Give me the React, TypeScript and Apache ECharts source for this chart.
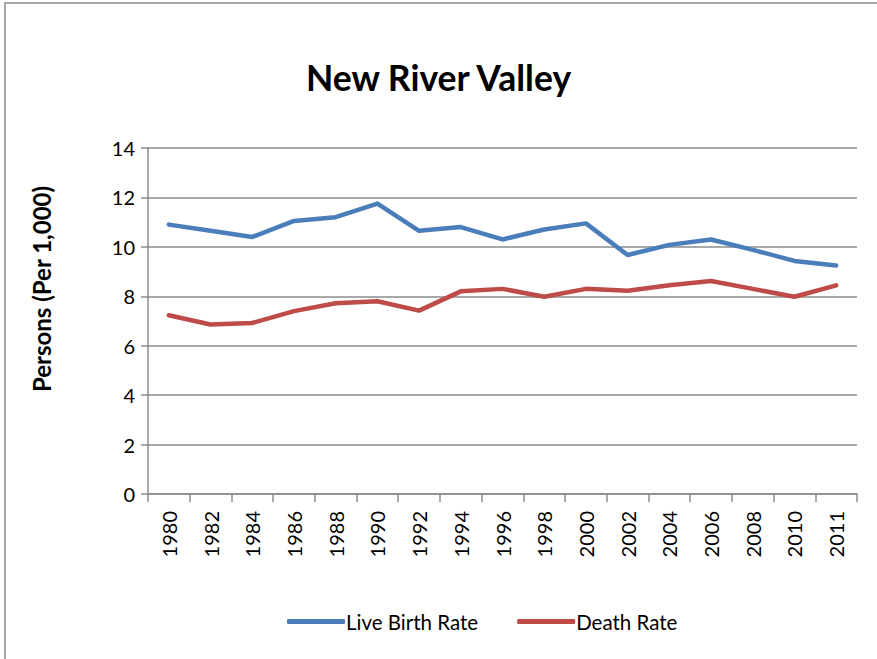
import React, { useEffect, useRef } from "react";
import * as echarts from "echarts";

const years = ["1980","1982","1984","1986","1988","1990","1992","1994","1996","1998","2000","2002","2004","2006","2008","2010","2011"];
const liveBirthRate = [10.9,10.65,10.4,11.05,11.2,11.75,10.65,10.8,10.3,10.7,10.95,9.67,10.08,10.3,9.88,9.43,9.25];
const deathRate = [7.23,6.86,6.92,7.4,7.72,7.8,7.42,8.2,8.3,7.98,8.3,8.22,8.45,8.62,8.3,7.98,8.44];
const seriesNames = ["Live Birth Rate", "Death Rate"];
const colors = ["#4A7EBB", "#BE4B48"];
const yAxisTitle = "Persons (Per 1,000)";

const FONT = "Lato";

export default function App() {
  const ref = useRef<HTMLDivElement>(null);
  useEffect(() => {
    const chart = echarts.init(ref.current!, null, { renderer: "svg" });
    chart.setOption({
      animation: false,
      backgroundColor: "#ffffff",
      textStyle: { fontFamily: FONT },
      graphic: [
        {
          type: "rect",
          shape: { x: 5, y: 3, width: 900, height: 700 },
          style: { fill: "none", stroke: "#8c8c8c", lineWidth: 1.5 },
          silent: true,
        },
        {
          type: "text",
          x: 41,
          y: 289,
          rotation: Math.PI / 2,
          style: {
            text: yAxisTitle,
            fontFamily: FONT,
            fontSize: 24,
            fontWeight: "bold",
            fill: "#000",
            align: "center",
            verticalAlign: "middle",
          },
          silent: true,
        },
      ],
      title: {
        text: "New River Valley",
        left: "center",
        top: 54,
        textStyle: { fontFamily: FONT, fontSize: 35.5, fontWeight: "bold", color: "#000" },
      },
      legend: {
        data: seriesNames,
        bottom: 22,
        left: 282,
        itemWidth: 58,
        itemHeight: 5,
        itemGap: 39,
        icon: "roundRect",
        textStyle: { fontFamily: FONT, fontSize: 20.5, color: "#000", padding: [0, 0, 0, -4] },
      },
      grid: { left: 148, right: 20, top: 148, bottom: 165, containLabel: false },
      xAxis: {
        type: "category",
        data: years,
        boundaryGap: true,
        axisLine: { lineStyle: { color: "#8c8c8c", width: 1.5 } },
        axisTick: { show: true, interval: 0, length: 8, lineStyle: { color: "#8c8c8c", width: 1.5 } },
        axisLabel: { interval: 0, rotate: 90, fontFamily: FONT, fontSize: 20, color: "#000", margin: 17 },
      },
      yAxis: {
        type: "value",
        min: 0,
        max: 14,
        interval: 2,
        axisLine: { show: true, lineStyle: { color: "#8c8c8c", width: 1.5 } },
        axisTick: { show: true, length: 7, lineStyle: { color: "#8c8c8c", width: 1.5 } },
        axisLabel: { fontFamily: FONT, fontSize: 20, color: "#000", margin: 13 },
        splitLine: { lineStyle: { color: "#8c8c8c", width: 1.5 } },
      },
      series: [
        {
          name: seriesNames[0],
          type: "line",
          data: liveBirthRate,
          symbol: "none",
          lineStyle: { color: colors[0], width: 4.5, cap: "round", join: "round" },
          itemStyle: { color: colors[0] },
        },
        {
          name: seriesNames[1],
          type: "line",
          data: deathRate,
          symbol: "none",
          lineStyle: { color: colors[1], width: 4.5, cap: "round", join: "round" },
          itemStyle: { color: colors[1] },
        },
      ],
    });
    return () => chart.dispose();
  }, []);
  return <div ref={ref} style={{ width: 877, height: 659, position: "absolute", left: 0, top: 0 }} />;
}
